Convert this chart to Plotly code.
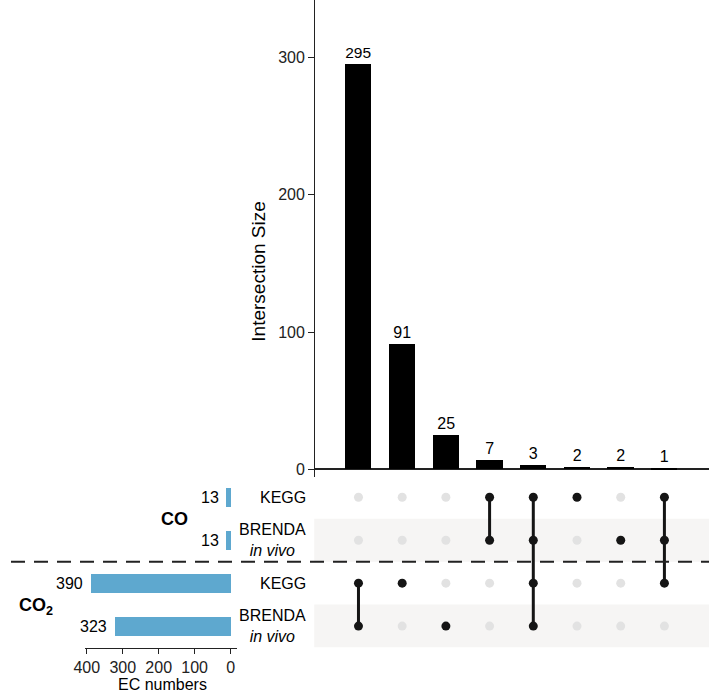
import plotly.graph_objects as go

# ---------------- data ----------------
intersection_sizes = [295, 91, 25, 7, 3, 2, 2, 1]
set_names = ["KEGG", "BRENDA<br><i>in vivo</i>", "KEGG", "BRENDA<br><i>in vivo</i>"]
set_sizes = [13, 13, 390, 323]
# membership: for each intersection column, list of set rows (0..3, top to bottom)
memberships = [
    [2, 3],
    [2],
    [3],
    [0, 1],
    [0, 1, 2, 3],
    [0],
    [1],
    [0, 1, 2],
]
top_ticks = [0, 100, 200, 300]
left_ticks = [0, 100, 200, 300, 400]

W, H = 709, 695
FONT = "Liberation Sans, Arial, Helvetica, sans-serif"
BLUE = "#5ea8cf"
DARK = "#151515"
GREY_DOT = "#e2e2e2"
BAND = "#f6f5f4"
AX = "#222222"

def px(x):
    return x / W

def py(y):
    return 1 - y / H

cols = list(range(len(intersection_sizes)))
rows = list(range(len(set_sizes)))

fig = go.Figure()

# top intersection bars
fig.add_trace(go.Bar(
    x=cols, y=intersection_sizes, marker=dict(color="black", line=dict(width=0)),
    width=0.6, text=[str(v) for v in intersection_sizes], textposition="outside",
    textfont=dict(size=16, color="black", family=FONT), cliponaxis=False,
    xaxis="x", yaxis="y", showlegend=False, hoverinfo="skip"))

# matrix dots
gx, gy, dx, dy = [], [], [], []
for c, mem in zip(cols, memberships):
    for r in rows:
        if r in mem:
            dx.append(c); dy.append(r)
        else:
            gx.append(c); gy.append(r)
fig.add_trace(go.Scatter(x=gx, y=gy, mode="markers",
                         marker=dict(size=9, color=GREY_DOT),
                         xaxis="x2", yaxis="y2", showlegend=False, hoverinfo="skip"))
lx, ly = [], []
for c, mem in zip(cols, memberships):
    if len(mem) > 1:
        lx += [c, c, None]
        ly += [min(mem), max(mem), None]
fig.add_trace(go.Scatter(x=lx, y=ly, mode="lines", line=dict(color=DARK, width=3),
                         xaxis="x2", yaxis="y2", showlegend=False, hoverinfo="skip"))
fig.add_trace(go.Scatter(x=dx, y=dy, mode="markers",
                         marker=dict(size=9, color=DARK),
                         xaxis="x2", yaxis="y2", showlegend=False, hoverinfo="skip"))

# set size bars
fig.add_trace(go.Bar(
    x=set_sizes, y=rows, orientation="h", width=0.45,
    marker=dict(color=BLUE, line=dict(width=0)),
    xaxis="x3", yaxis="y3", showlegend=False, hoverinfo="skip"))

shapes = []
for r in rows:
    if r % 2 == 1:
        shapes.append(dict(type="rect", xref="paper", yref="y2",
                           x0=px(308), x1=1, y0=r - 0.5, y1=r + 0.5,
                           fillcolor=BAND, line=dict(width=0), layer="below"))
shapes.append(dict(type="line", xref="paper", yref="y2", x0=0, x1=1, y0=1.5, y1=1.5,
                   line=dict(color=AX, width=2, dash="14px,9px"), layer="above"))

annotations = []
for r, name in zip(rows, set_names):
    annotations.append(dict(xref="paper", yref="y2", x=px(302), y=r, text=name,
                            xanchor="right", yanchor="middle", align="center",
                            showarrow=False, font=dict(size=16, color="black", family=FONT)))
for r, v in zip(rows, set_sizes):
    annotations.append(dict(xref="x3", yref="y3", x=v, y=r, text=str(v),
                            xanchor="right", yanchor="middle", xshift=-5,
                            showarrow=False, font=dict(size=16, color="black", family=FONT)))
annotations.append(dict(xref="paper", yref="y2", x=px(166), y=0.5, text="<b>CO</b>",
                        xanchor="center", yanchor="middle", showarrow=False,
                        font=dict(size=18, color="black", family=FONT)))
annotations.append(dict(xref="paper", yref="paper", x=px(6), y=py(607), text="<b>CO<sub>2</sub></b>",
                        xanchor="left", yanchor="middle", showarrow=False,
                        font=dict(size=18, color="black", family=FONT)))
annotations.append(dict(xref="paper", yref="paper", x=px(252), y=py(272),
                        text="Intersection Size", textangle=-90, showarrow=False,
                        xanchor="center", yanchor="middle",
                        font=dict(size=19, color="black", family=FONT)))
annotations.append(dict(xref="paper", yref="paper", x=px(154), y=py(685),
                        text="EC numbers", showarrow=False,
                        xanchor="center", yanchor="middle",
                        font=dict(size=16, color="black", family=FONT)))

xrange = [-0.99, 8.02]
fig.update_layout(
    width=W, height=H, margin=dict(l=0, r=0, t=0, b=0),
    paper_bgcolor="white", plot_bgcolor="rgba(0,0,0,0)",
    font=dict(family=FONT, size=16, color="black"),
    bargap=0,
    xaxis=dict(domain=[px(309), 1], range=xrange, anchor="y", showticklabels=False,
               showline=False, showgrid=False, zeroline=False, ticks=""),
    yaxis=dict(domain=[py(478), 1], range=[-5.8, 341.8], anchor="x",
               tickvals=top_ticks, ticks="outside", ticklen=6, tickcolor=AX, tickwidth=1.2,
               showline=True, linecolor=AX, linewidth=1.2, showgrid=False,
               zeroline=True, zerolinecolor=AX, zerolinewidth=1.5,
               tickfont=dict(size=16, color="#222", family=FONT)),
    xaxis2=dict(domain=[px(309), 1], range=xrange, anchor="y2", visible=False),
    yaxis2=dict(domain=[py(648.5), py(476.5)], range=[3.5, -0.5], anchor="x2", visible=False),
    xaxis3=dict(domain=[px(75), px(230)], range=[405.5, -19], anchor="y3",
                tickvals=left_ticks, ticks="outside", ticklen=5, tickcolor=AX, tickwidth=1.2,
                showline=True, linecolor=AX, linewidth=1.2, showgrid=False, zeroline=False,
                tickfont=dict(size=16, color="#222", family=FONT)),
    yaxis3=dict(domain=[py(648.5), py(476.5)], range=[3.5, -0.5], anchor="x3", visible=False),
    shapes=shapes, annotations=annotations,
)

fig.write_html("out.html", config={"displayModeBar": False},
               post_script="document.body.style.margin='0';document.body.style.overflow='hidden';")
